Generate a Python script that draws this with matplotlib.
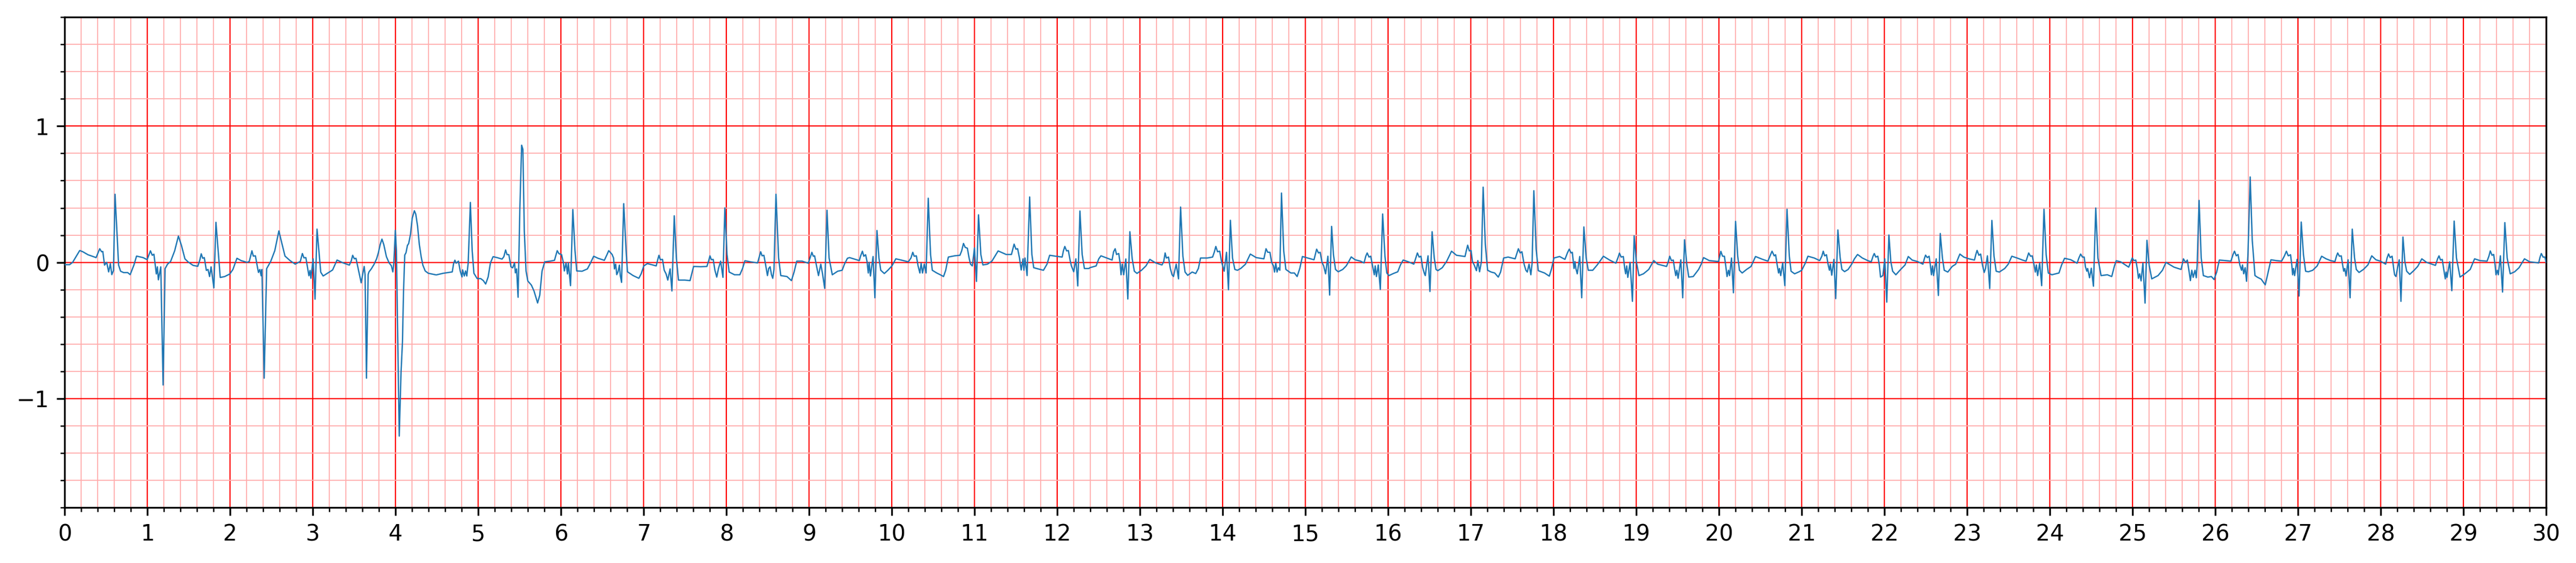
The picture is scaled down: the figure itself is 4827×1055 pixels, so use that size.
import matplotlib
matplotlib.use("Agg")
import matplotlib.pyplot as plt
from matplotlib.ticker import MultipleLocator

# ECG trace: keypoints (time in s, amplitude)
time_s = [
 0.000,0.057,0.094,0.180,0.217,0.280,0.378,0.422,0.444,0.459,0.480,0.506,0.530,0.550,0.568,0.588,0.607,0.650,0.674,0.711,0.760,0.790,0.835,0.867,0.946,0.995,
 1.035,1.057,1.077,1.106,1.119,1.131,1.160,1.188,1.212,1.242,1.279,1.328,1.373,1.410,1.452,1.489,1.550,1.607,1.632,1.649,1.667,1.686,1.711,1.731,1.750,1.768,1.802,1.827,1.879,1.933,1.995,
 2.032,2.081,2.131,2.205,2.230,2.262,2.279,2.304,2.328,2.341,2.358,2.373,2.383,2.410,2.440,2.489,2.538,2.588,2.625,2.662,2.723,2.785,2.847,2.872,2.891,2.914,2.933,2.951,2.965,2.975,
 3.002,3.025,3.049,3.094,3.123,3.180,3.237,3.291,3.365,3.440,3.464,3.480,3.500,3.520,3.551,3.583,3.604,3.619,3.630,3.647,3.667,3.677,3.705,3.738,3.770,3.791,3.813,3.834,3.856,3.888,3.920,3.948,3.966,3.978,3.996,
 4.009,4.043,4.065,4.082,4.095,4.110,4.125,4.142,4.157,4.179,4.200,4.226,4.243,4.265,4.286,4.308,4.329,4.357,4.394,4.490,4.576,4.684,4.700,4.716,4.731,4.759,4.780,4.802,4.809,4.830,4.845,4.860,4.877,4.903,4.925,4.946,4.985,
 5.028,5.060,5.088,5.118,5.146,5.178,5.232,5.286,5.308,5.329,5.346,5.368,5.394,5.415,5.437,5.447,5.462,5.480,5.501,5.523,5.538,5.555,5.576,5.598,5.641,5.673,5.716,5.742,5.770,5.802,5.867,5.920,5.953,5.974,
 6.006,6.028,6.039,6.060,6.077,6.088,6.114,6.142,6.168,6.189,6.254,6.318,6.351,6.394,6.447,6.523,6.555,6.576,6.617,6.634,6.645,6.660,6.673,6.688,6.705,6.716,6.731,6.757,6.785,6.802,6.871,6.940,6.968,
 7.000,7.043,7.108,7.150,7.168,7.183,7.200,7.226,7.247,7.269,7.290,7.318,7.340,7.368,7.394,7.419,7.495,7.559,7.602,7.688,7.763,7.785,7.800,7.817,7.839,7.860,7.882,7.903,7.929,7.957,7.980,
 8.006,8.032,8.097,8.161,8.194,8.222,8.290,8.376,8.398,8.413,8.430,8.452,8.473,8.495,8.510,8.527,8.544,8.559,8.574,8.598,8.630,8.656,8.731,8.785,8.817,8.849,8.914,8.989,
 9.017,9.032,9.049,9.065,9.086,9.112,9.140,9.161,9.187,9.215,9.240,9.279,9.344,9.398,9.426,9.462,9.488,9.606,9.620,9.643,9.660,9.682,9.699,9.714,9.725,9.740,9.772,9.794,9.819,9.843,9.865,9.908,9.951,
 10.000,10.047,10.112,10.198,10.230,10.252,10.269,10.295,10.316,10.338,10.353,10.370,10.391,10.413,10.439,10.467,10.488,10.542,10.585,10.624,10.650,10.682,10.757,10.822,10.843,10.865,10.886,10.912,10.933,10.950,10.972,10.998,
 11.022,11.047,11.075,11.100,11.155,11.209,11.284,11.381,11.445,11.477,11.499,11.520,11.542,11.563,11.585,11.596,11.609,11.634,11.665,11.692,11.714,11.768,11.832,11.875,11.907,11.982,
 12.058,12.073,12.090,12.112,12.133,12.155,12.170,12.198,12.224,12.247,12.273,12.300,12.327,12.381,12.394,12.469,12.501,12.527,12.598,12.662,12.680,12.699,12.716,12.742,12.759,12.770,12.785,12.802,12.828,12.852,12.877,12.905,12.931,12.963,
 13.017,13.071,13.118,13.189,13.265,13.286,13.303,13.318,13.344,13.366,13.387,13.404,13.421,13.437,13.465,13.490,13.518,13.544,13.576,13.630,13.673,13.705,13.731,13.813,13.877,13.899,13.916,13.937,13.963,13.985,
 14.002,14.017,14.045,14.069,14.092,14.118,14.146,14.178,14.221,14.275,14.333,14.404,14.497,14.523,14.544,14.570,14.591,14.613,14.626,14.641,14.656,14.673,14.690,14.710,14.737,14.763,14.823,14.866,14.899,14.931,14.963,
 15.028,15.103,15.135,15.157,15.178,15.200,15.220,15.243,15.271,15.292,15.316,15.338,15.363,15.396,15.450,15.492,15.518,15.553,15.600,15.665,15.708,15.729,15.746,15.768,15.789,15.811,15.832,15.843,15.858,15.880,15.905,15.933,15.961,15.983,
 16.009,16.062,16.116,16.148,16.181,16.245,16.310,16.331,16.353,16.374,16.396,16.417,16.439,16.449,16.465,16.482,16.505,16.531,16.557,16.578,16.600,16.654,16.708,16.766,16.826,16.929,16.944,16.961,16.981,
 17.002,17.019,17.040,17.067,17.084,17.105,17.127,17.148,17.174,17.202,17.245,17.288,17.331,17.359,17.396,17.450,17.535,17.574,17.596,17.617,17.643,17.665,17.682,17.703,17.725,17.740,17.761,17.789,17.815,17.890,17.948,17.976,
 18.004,18.072,18.137,18.168,18.189,18.211,18.226,18.247,18.258,18.269,18.286,18.316,18.340,18.366,18.394,18.419,18.473,18.527,18.570,18.602,18.677,18.753,18.781,18.796,18.817,18.843,18.860,18.871,18.884,18.897,18.925,18.953,18.974,
 19.000,19.032,19.086,19.150,19.211,19.258,19.366,19.387,19.404,19.424,19.447,19.462,19.477,19.490,19.505,19.538,19.561,19.583,19.609,19.634,19.688,19.753,19.785,19.813,19.882,19.994,
 20.022,20.043,20.065,20.080,20.097,20.114,20.127,20.151,20.174,20.200,20.226,20.247,20.280,20.333,20.387,20.441,20.527,20.591,20.624,20.641,20.667,20.684,20.703,20.720,20.731,20.746,20.770,20.796,20.822,20.850,20.871,20.914,20.968,
 21.000,21.043,21.075,21.151,21.217,21.243,21.260,21.277,21.299,21.320,21.335,21.346,21.363,21.389,21.411,21.437,21.465,21.486,21.518,21.561,21.604,21.637,21.675,21.733,21.798,21.840,21.862,21.877,21.895,21.920,21.938,21.953,21.981,
 22.004,22.028,22.054,22.077,22.099,22.138,22.196,22.249,22.288,22.335,22.400,22.465,22.482,22.497,22.518,22.540,22.555,22.568,22.581,22.594,22.626,22.652,22.675,22.701,22.723,22.766,22.819,22.862,22.912,22.959,
 23.022,23.088,23.105,23.120,23.142,23.163,23.185,23.206,23.222,23.245,23.273,23.299,23.325,23.351,23.389,23.454,23.497,23.540,23.604,23.669,23.712,23.744,23.766,23.787,23.809,23.824,23.837,23.852,23.877,23.901,23.929,23.955,23.981,
 24.024,24.110,24.142,24.178,24.254,24.329,24.351,24.372,24.394,24.415,24.430,24.447,24.457,24.480,24.501,24.527,24.555,24.581,24.619,24.695,24.748,24.781,24.802,24.856,24.953,24.996,
 25.017,25.039,25.060,25.071,25.086,25.103,25.125,25.151,25.174,25.200,25.232,25.308,25.361,25.404,25.501,25.587,25.615,25.641,25.662,25.684,25.699,25.716,25.733,25.755,25.770,25.781,25.804,25.830,25.856,25.910,25.953,25.985,
 26.017,26.049,26.125,26.189,26.215,26.232,26.254,26.275,26.297,26.318,26.329,26.344,26.361,26.378,26.395,26.422,26.447,26.480,26.512,26.555,26.604,26.630,26.673,26.738,26.802,26.834,26.860,26.882,26.910,26.925,26.935,26.946,26.959,26.989,
 27.013,27.039,27.066,27.092,27.125,27.178,27.232,27.286,27.340,27.394,27.447,27.465,27.480,27.501,27.523,27.540,27.553,27.566,27.581,27.606,27.630,27.656,27.684,27.705,27.738,27.791,27.845,27.892,27.942,27.996,
 28.060,28.077,28.095,28.114,28.138,28.157,28.168,28.185,28.202,28.224,28.245,28.269,28.292,28.314,28.351,28.404,28.447,28.497,28.555,28.619,28.662,28.688,28.705,28.723,28.744,28.766,28.781,28.791,28.802,28.834,28.860,28.888,28.916,28.959,
 29.017,29.082,29.135,29.200,29.286,29.308,29.325,29.346,29.366,29.383,29.394,29.409,29.422,29.447,29.473,29.501,29.529,29.566,29.620,29.673,29.738,29.802,29.910,29.927,29.942,29.963,29.985,30.000,
]
amplitude = [
 -0.017,-0.017,0.000,0.087,0.078,0.056,0.035,0.100,0.078,0.080,-0.020,0.000,-0.070,-0.010,-0.090,-0.060,0.500,-0.020,-0.065,-0.075,-0.075,-0.090,-0.020,0.046,0.035,0.020,
 0.085,0.052,0.060,-0.085,-0.033,-0.128,-0.033,-0.900,-0.046,-0.013,0.007,0.085,0.193,0.124,0.026,0.004,-0.022,-0.029,0.017,0.063,0.030,0.035,-0.059,-0.052,-0.104,-0.033,-0.187,0.294,-0.111,-0.104,-0.085,
 -0.052,0.030,0.013,0.000,0.007,0.085,0.046,0.048,-0.033,-0.074,-0.052,-0.098,-0.052,-0.850,-0.046,0.007,0.085,0.231,0.137,0.046,0.013,-0.013,0.007,0.065,0.033,0.035,-0.033,-0.098,-0.059,-0.117,
 0.026,-0.270,0.244,-0.072,-0.100,-0.078,-0.056,0.017,-0.004,-0.020,0.013,0.052,0.026,0.030,-0.059,-0.150,-0.077,-0.030,-0.090,-0.850,-0.090,-0.070,-0.048,-0.015,0.027,0.071,0.131,0.171,0.131,0.042,-0.003,-0.025,-0.070,-0.003,0.235,
 0.086,-1.275,-0.807,-0.583,-0.211,0.054,0.071,0.124,0.138,0.205,0.324,0.379,0.354,0.265,0.131,0.042,-0.021,-0.063,-0.080,-0.092,-0.080,-0.070,-0.010,0.016,-0.006,0.009,-0.063,-0.107,-0.055,-0.100,-0.063,-0.100,-0.003,0.440,0.086,-0.080,-0.119,
 -0.119,-0.134,-0.159,-0.107,-0.003,0.042,0.034,0.024,0.042,0.091,0.057,0.057,-0.033,-0.040,-0.003,-0.077,-0.048,-0.256,0.384,0.860,0.830,0.235,-0.063,-0.137,-0.167,-0.211,-0.298,-0.241,-0.063,0.004,0.009,0.015,0.086,0.064,
 0.057,-0.003,-0.063,-0.003,-0.085,-0.003,-0.171,0.388,0.086,-0.063,-0.065,-0.048,-0.010,0.045,0.030,0.015,0.057,0.086,0.058,0.032,-0.048,-0.013,-0.090,-0.070,-0.020,-0.097,-0.147,0.431,0.097,-0.069,-0.097,-0.117,-0.084,
 -0.026,-0.009,-0.019,-0.026,0.019,0.052,0.019,0.022,-0.058,-0.084,-0.130,-0.048,-0.210,0.342,0.032,-0.130,-0.130,-0.134,-0.030,-0.032,-0.030,0.013,0.048,0.019,0.022,-0.058,-0.108,-0.045,0.009,-0.110,0.400,
 0.058,-0.071,-0.091,-0.091,-0.045,0.012,0.004,-0.004,0.045,0.078,0.048,0.052,-0.019,-0.097,-0.045,-0.032,-0.091,-0.117,-0.052,0.500,0.032,-0.097,-0.104,-0.134,-0.071,0.009,0.009,-0.006,
 0.045,0.074,0.045,0.048,-0.019,-0.097,-0.013,-0.084,-0.191,0.383,0.032,-0.091,-0.065,-0.058,-0.013,0.030,0.035,0.013,0.045,0.082,0.045,0.056,0.006,-0.078,0.000,-0.100,0.043,-0.260,0.234,0.032,-0.058,-0.082,-0.058,
 -0.026,0.026,0.017,0.004,0.032,0.074,0.045,0.048,-0.026,-0.078,-0.006,-0.078,-0.013,-0.078,0.471,0.058,-0.058,-0.078,-0.091,-0.104,-0.058,0.039,0.048,0.052,0.084,0.139,0.110,0.104,0.032,-0.013,-0.026,0.106,
 -0.140,0.349,0.058,-0.019,-0.013,0.009,0.084,0.058,0.058,0.134,0.097,0.100,0.032,-0.056,0.026,-0.058,0.032,-0.097,0.480,0.058,-0.039,-0.048,-0.058,-0.013,0.052,0.045,
 0.039,0.084,0.117,0.084,0.087,0.013,-0.026,-0.069,0.026,-0.173,0.377,0.058,-0.045,-0.045,-0.039,-0.026,0.026,0.048,0.032,0.017,0.078,0.100,0.058,0.065,-0.006,-0.091,-0.013,-0.091,0.025,-0.269,0.225,0.026,-0.065,-0.081,
 -0.058,-0.026,0.022,-0.004,-0.019,0.006,0.069,0.032,0.039,-0.045,-0.091,-0.104,-0.058,-0.013,-0.121,0.406,0.045,-0.071,-0.095,-0.071,-0.082,-0.045,0.032,0.032,0.039,0.078,0.117,0.078,0.082,0.006,
 -0.032,-0.065,0.074,-0.201,0.309,0.032,-0.052,-0.058,-0.043,-0.013,0.061,0.035,0.026,0.100,0.074,0.074,0.000,-0.026,-0.071,-0.006,-0.071,-0.039,-0.058,0.509,0.084,-0.052,-0.078,-0.078,-0.104,-0.045,0.043,
 0.032,0.019,0.097,0.069,0.074,0.000,-0.026,-0.084,0.045,-0.240,0.264,0.058,-0.052,-0.069,-0.052,-0.026,0.000,0.040,0.019,0.009,-0.004,0.045,0.069,0.039,0.045,-0.026,-0.091,-0.026,-0.104,-0.019,-0.199,0.355,0.045,-0.078,
 -0.097,-0.082,-0.069,-0.019,0.017,0.004,-0.013,0.026,0.069,0.039,0.045,-0.039,-0.084,-0.097,-0.019,0.048,-0.214,0.225,0.032,-0.052,-0.061,-0.039,0.009,0.082,0.052,0.043,0.084,0.126,0.084,
 0.087,0.006,-0.019,-0.061,0.013,-0.069,0.006,0.552,0.136,-0.058,-0.071,-0.078,-0.108,-0.071,0.032,0.039,0.026,0.100,0.069,0.078,-0.013,-0.058,-0.071,-0.013,-0.091,-0.006,0.526,0.097,-0.061,-0.078,-0.101,-0.045,
 0.032,0.043,0.022,0.071,0.097,0.069,0.074,-0.045,0.006,-0.045,-0.084,0.043,-0.260,0.260,0.032,-0.058,-0.058,-0.019,0.017,0.045,0.017,-0.006,0.039,0.068,0.039,0.043,-0.045,-0.084,-0.026,-0.110,0.000,-0.286,0.195,
 0.006,-0.097,-0.084,-0.052,0.013,-0.013,-0.030,0.006,0.045,0.013,0.017,-0.045,-0.097,-0.058,-0.117,0.019,-0.260,0.166,-0.006,-0.108,-0.104,-0.052,-0.013,0.035,0.013,0.006,
 0.081,0.045,0.045,-0.019,-0.104,-0.058,-0.097,0.032,-0.223,0.301,0.045,-0.058,-0.078,-0.052,-0.030,0.043,0.022,0.009,0.058,0.082,0.048,0.056,-0.019,-0.078,-0.045,-0.097,-0.004,-0.171,0.390,0.045,-0.065,-0.084,-0.069,
 -0.058,-0.006,0.045,0.032,0.013,0.045,0.082,0.048,0.056,-0.019,-0.058,-0.013,-0.094,0.022,-0.266,0.238,0.032,-0.052,-0.068,-0.052,-0.013,0.026,0.058,0.032,0.013,0.004,0.045,0.065,0.039,0.045,-0.019,-0.108,-0.097,
 0.026,-0.292,0.201,0.006,-0.065,-0.091,-0.052,-0.019,0.043,0.017,0.006,-0.013,0.026,0.053,0.035,0.045,-0.019,-0.091,-0.026,-0.097,0.026,-0.243,0.212,0.032,-0.058,-0.071,-0.030,-0.013,0.061,0.039,
 0.026,0.017,0.058,0.088,0.052,0.061,-0.019,-0.074,-0.045,0.048,-0.192,0.308,0.045,-0.065,-0.071,-0.045,-0.013,0.045,0.032,0.017,0.009,0.069,0.045,0.048,-0.019,-0.071,-0.019,-0.097,-0.006,-0.171,0.390,0.058,-0.078,
 -0.091,-0.078,-0.019,0.030,0.019,-0.006,0.032,0.061,0.039,0.039,-0.032,-0.065,-0.045,-0.113,-0.043,-0.175,0.399,0.032,-0.097,-0.091,-0.104,-0.026,0.012,0.004,-0.035,0.032,
 0.013,0.017,-0.058,-0.117,-0.084,-0.136,-0.004,-0.299,0.162,-0.019,-0.121,-0.097,-0.058,0.000,-0.035,-0.052,0.026,0.000,0.017,-0.071,-0.134,-0.058,-0.110,-0.058,-0.113,-0.019,0.455,0.032,-0.097,-0.108,-0.104,-0.126,
 -0.071,0.017,0.013,0.009,0.058,0.082,0.048,0.058,-0.019,-0.058,-0.019,-0.084,-0.039,-0.139,0.058,0.627,0.162,-0.097,-0.110,-0.123,-0.165,-0.097,0.019,0.013,0.009,0.045,0.082,0.048,0.056,-0.019,-0.091,-0.045,-0.097,0.022,
 -0.247,0.296,0.058,-0.065,-0.069,-0.058,-0.026,0.045,0.026,0.013,0.006,0.045,0.069,0.045,0.048,-0.019,-0.065,-0.045,-0.100,0.019,-0.260,0.244,0.032,-0.052,-0.074,-0.052,-0.019,0.048,0.019,0.009,
 -0.013,0.032,0.062,0.035,0.045,-0.045,-0.091,-0.104,-0.045,0.019,-0.286,0.186,0.006,-0.065,-0.088,-0.058,-0.030,0.026,0.000,-0.013,-0.022,0.026,0.048,0.017,0.022,-0.065,-0.121,-0.071,-0.110,0.004,-0.208,0.303,0.032,-0.108,
 -0.084,-0.052,0.026,0.013,0.009,0.045,0.084,0.052,0.058,-0.019,-0.091,-0.058,-0.091,0.048,-0.218,0.292,0.032,-0.084,-0.069,-0.039,0.026,0.004,-0.004,0.039,0.065,0.039,0.039,0.000,
]

x_limits = (0, 30)
y_limits = (-1.8, 1.8)
y_tick_labels = [-1, 0, 1]
x_tick_labels = list(range(0, 31))

fig = plt.figure(figsize=(4827 / 300, 1055 / 300), dpi=300)
ax = fig.add_axes([0.02517, 0.09839, 0.98840 - 0.02517, 0.96957 - 0.09839])

n = min(len(time_s), len(amplitude))
ax.plot(time_s[:n], amplitude[:n], color="#1f77b4", lw=0.6, zorder=3)

ax.set_xlim(*x_limits)
ax.set_ylim(*y_limits)
ax.set_xticks(x_tick_labels)
ax.set_yticks(y_tick_labels)
ax.set_yticklabels(["\u22121", "0", "1"])
ax.xaxis.set_minor_locator(MultipleLocator(0.2))
ax.yaxis.set_minor_locator(MultipleLocator(0.2))
ax.grid(which="major", color="#ff0000", lw=0.55)
ax.grid(which="minor", color="#ffadad", lw=0.45)
ax.set_axisbelow(True)

fig.savefig("out.png", dpi=300)
